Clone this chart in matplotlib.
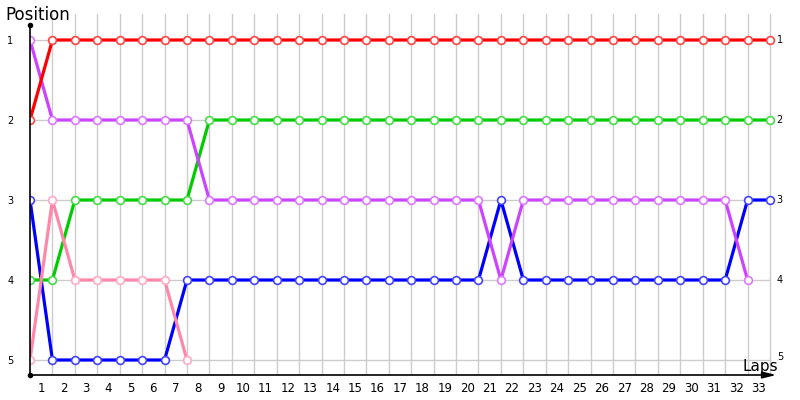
import matplotlib
matplotlib.use("Agg")
import matplotlib.pyplot as plt

# Data: positions by lap (lap 0 = start)
red_pos    = [2, 1, 1, 1, 1, 1, 1, 1, 1, 1, 1, 1, 1, 1, 1, 1, 1, 1, 1, 1, 1, 1, 1, 1, 1, 1, 1, 1, 1, 1, 1, 1, 1, 1]
green_pos  = [4, 4, 3, 3, 3, 3, 3, 3, 2, 2, 2, 2, 2, 2, 2, 2, 2, 2, 2, 2, 2, 2, 2, 2, 2, 2, 2, 2, 2, 2, 2, 2, 2, 2]
purple_pos = [1, 2, 2, 2, 2, 2, 2, 2, 3, 3, 3, 3, 3, 3, 3, 3, 3, 3, 3, 3, 3, 4, 3, 3, 3, 3, 3, 3, 3, 3, 3, 3, 4]
blue_pos   = [3, 5, 5, 5, 5, 5, 5, 4, 4, 4, 4, 4, 4, 4, 4, 4, 4, 4, 4, 4, 4, 3, 4, 4, 4, 4, 4, 4, 4, 4, 4, 4, 3, 3]
pink_pos   = [5, 3, 4, 4, 4, 4, 4, 5]

lap_labels = [str(i) for i in range(1, 34)]
pos_labels = ["1", "2", "3", "4", "5"]

series = [
    (blue_pos,   "#0000ff", "#4444ff"),
    (green_pos,  "#00cc00", "#44dd44"),
    (pink_pos,   "#ff88aa", "#ffaac4"),
    (purple_pos, "#cc44ff", "#dd77ff"),
    (red_pos,    "#ff0000", "#ff4444"),
]

W, H = 800, 400
fig = plt.figure(figsize=(8, 4), dpi=100)
fig.patch.set_facecolor("white")

# pixel geometry
x0_px, dx_px = 30.0, 740.0 / 33.0
y1_px, dy_px = 40.0, 80.0
left_px, right_px = 30.0, 776.0
top_px, bot_px = 14.0, 375.0

ax = fig.add_axes([left_px / W, 1 - bot_px / H, (right_px - left_px) / W, (bot_px - top_px) / H])
ax.set_xlim(0, (right_px - x0_px) / dx_px)
ax.set_ylim(1 + (bot_px - y1_px) / dy_px, 1 + (top_px - y1_px) / dy_px)
for s in ax.spines.values():
    s.set_visible(False)
ax.set_facecolor("white")

# grid
for i in range(1, 34):
    ax.axvline(i, color="#cccccc", lw=1.0, zorder=0)
for p in range(1, 6):
    ax.plot([0, 33], [p, p], color="#cccccc", lw=1.0, zorder=0)

# series
for k, (vals, lc, mc) in enumerate(series):
    xs = list(range(len(vals)))
    ax.plot(xs, vals, color=lc, lw=2.3, zorder=2 + k * 0.1, solid_capstyle="round")
    ax.plot(xs, vals, ls="none", marker="o", ms=5.6, mfc="white", mec=mc, mew=1.2, zorder=3 + k * 0.1)

# ticks
ax.set_xticks([i - 0.5 for i in range(1, 34)])
ax.set_xticklabels(lap_labels, fontsize=8.5, family="DejaVu Sans")
ax.tick_params(axis="x", length=0, pad=5)
ax.set_yticks([1, 2, 3, 4, 5])
ax.set_yticklabels(pos_labels, fontsize=7)
ax.tick_params(axis="y", length=0, pad=12)

# right labels
for p, lab in zip([1, 2, 3, 4, 5], pos_labels):
    yy = p if p < 5 else p - 0.04
    ax.text(33.3, yy, lab, fontsize=7, va="center", ha="left", clip_on=False)

# axes lines
fx = lambda px: px / W
fy = lambda py: 1 - py / H
fig.add_artist(plt.Line2D([fx(30), fx(30)], [fy(375), fy(25)], color="black", lw=1.2))
fig.add_artist(plt.Line2D([fx(30), fx(768)], [fy(375), fy(375)], color="black", lw=1.2))
fig.add_artist(plt.Line2D([fx(30)], [fy(25)], marker="o", ms=3, color="black"))
fig.add_artist(plt.Line2D([fx(30)], [fy(375)], marker="o", ms=3, color="black"))
ax.annotate("", xy=(fx(779), fy(375)), xycoords="figure fraction",
            xytext=(fx(762), fy(375)), textcoords="figure fraction",
            arrowprops=dict(arrowstyle="-|>,head_length=0.8,head_width=0.2", color="black", lw=1.2))

fig.text(fx(5), fy(15), "Position", fontsize=12, va="center", ha="left")
fig.text(fx(743), fy(366), "Laps", fontsize=11, va="center", ha="left")

fig.savefig("out.png", dpi=100)
